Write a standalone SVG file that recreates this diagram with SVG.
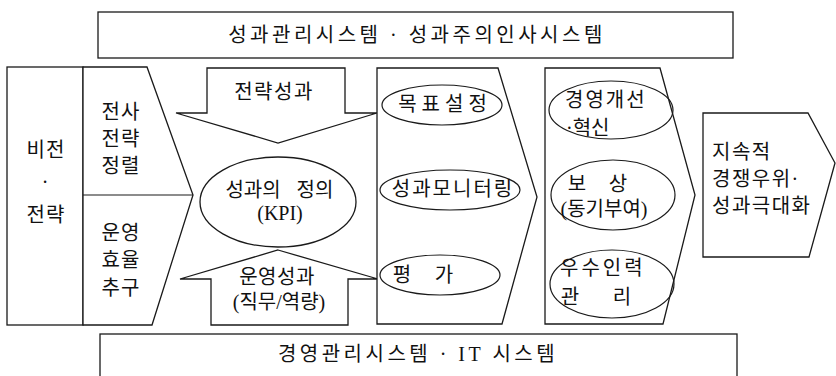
<svg xmlns="http://www.w3.org/2000/svg" width="836" height="376" viewBox="0 0 836 376">
<style>
.s{fill:#fff;stroke:#1a1a1a;stroke-width:1.3}
.e{fill:none;stroke:#1a1a1a;stroke-width:1.2}
text{font-family:"Liberation Serif","Noto Sans CJK KR",serif;font-size:20px;fill:#111;dominant-baseline:central}
.m{text-anchor:middle}
</style>
<rect width="836" height="376" fill="#fff"/>
<g id="top-system">
<rect class="s" x="98" y="12" width="635" height="46"/>
<text class="m" x="417" y="35" letter-spacing="3.5">성과관리시스템 · 성과주의인사시스템</text>
</g>
<g id="vision">
<rect class="s" x="7" y="67" width="76" height="258"/>
<text class="m" x="46" y="150" letter-spacing="1">비전</text>
<text class="m" x="45" y="182">·</text>
<text class="m" x="46" y="215" letter-spacing="1">전략</text>
</g>
<g id="strategy-ops">
<polygon class="s" points="83,67 147,67 193,195 152,325 83,325"/>
<line class="e" x1="83" y1="195" x2="193" y2="195"/>
<text class="m" x="121" y="112" letter-spacing="1">전사</text>
<text class="m" x="121" y="139" letter-spacing="1">전략</text>
<text class="m" x="121" y="166" letter-spacing="1">정렬</text>
<text class="m" x="121" y="233" letter-spacing="1">운영</text>
<text class="m" x="121" y="260" letter-spacing="1">효율</text>
<text class="m" x="121" y="288" letter-spacing="1">추구</text>
</g>
<g id="connectors">
<polygon class="s" points="207,68 345,68 345,113 377,113 278,143 176,113 207,113"/>
<text class="m" x="274" y="92" letter-spacing="1.5">전략성과</text>
<polygon class="s" points="278,250 378,279 348,279 348,325 211,325 211,279 180,279"/>
<text class="m" x="277" y="277" letter-spacing="0.5">운영성과</text>
<text class="m" x="279" y="302">(직무/역량)</text>
</g>
<g id="kpi">
<ellipse class="s" cx="278" cy="202" rx="78" ry="45"/>
<text class="m" x="253" y="190">성과의</text>
<text class="m" x="315" y="190">정의</text>
<text class="m" x="280" y="213">(KPI)</text>
</g>
<g id="management">
<polygon class="s" points="377,68 498,68 537,197 502,324 377,324"/>
<ellipse class="e" cx="442" cy="105" rx="60" ry="20"/>
<text class="m" x="445" y="104" letter-spacing="5">목표설정</text>
<ellipse class="e" cx="450" cy="190" rx="70" ry="20"/>
<text class="m" x="453" y="189" letter-spacing="2">성과모니터링</text>
<ellipse class="e" cx="440" cy="275" rx="60" ry="20"/>
<text class="m" x="402" y="275">평</text>
<text class="m" x="444" y="275">가</text>
</g>
<g id="outcomes">
<polygon class="s" points="545,68 660,68 695,195 663,324 545,324"/>
<ellipse class="e" cx="611" cy="110" rx="62" ry="29"/>
<text x="565" y="100" letter-spacing="2">경영개선</text>
<text x="566" y="128">·혁신</text>
<ellipse class="e" cx="613" cy="195" rx="62" ry="35"/>
<text class="m" x="577" y="184">보</text>
<text class="m" x="618" y="184">상</text>
<text class="m" x="604" y="209">(동기부여)</text>
<ellipse class="e" cx="612" cy="284" rx="62" ry="34"/>
<text x="560" y="268" letter-spacing="3">우수인력</text>
<text class="m" x="570" y="297">관</text>
<text class="m" x="622" y="297">리</text>
</g>
<g id="result">
<polygon class="s" points="703,113 808,113 835,163 809,257 703,257"/>
<text x="712" y="152" letter-spacing="1.5">지속적</text>
<text x="712" y="179" letter-spacing="1.5">경쟁우위·</text>
<text x="712" y="206" letter-spacing="1.5">성과극대화</text>
</g>
<g id="bottom-system">
<rect class="s" x="100" y="334" width="637" height="50"/>
<text class="m" x="418" y="354" letter-spacing="3.5">경영관리시스템 · IT 시스템</text>
</g>
</svg>
